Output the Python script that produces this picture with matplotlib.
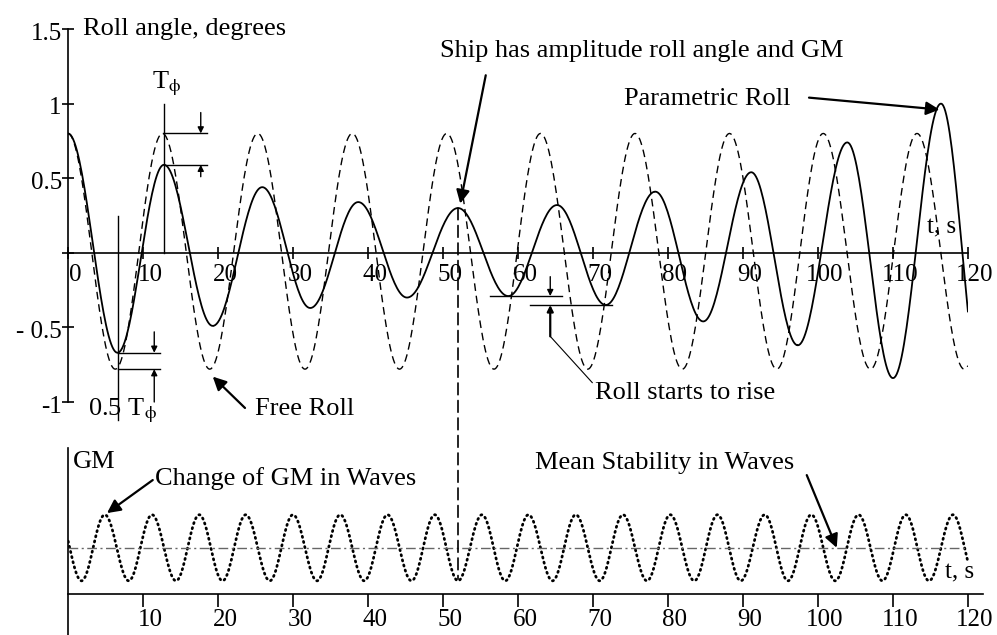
import numpy as np
import matplotlib.pyplot as plt
from matplotlib.patches import ConnectionPatch

plt.rcParams['font.family'] = ['Liberation Serif', 'DejaVu Serif']
plt.rcParams['mathtext.fontset'] = 'stix'

# free roll extrema (time s, roll deg); last point lies past the window
free_t = [0, 6.3, 12.6, 18.9, 25.3, 31.6, 37.9, 44.2, 50.5, 56.8, 63.0,
          69.3, 75.6, 81.9, 88.2, 94.5, 100.7, 107.0, 113.2, 119.5, 125.8]
free_v = [0.80, -0.78, 0.80, -0.78, 0.80, -0.78, 0.80, -0.78, 0.80, -0.78, 0.80,
          -0.78, 0.80, -0.78, 0.80, -0.78, 0.80, -0.78, 0.80, -0.78, 0.80]

# roll in waves extrema
roll_t = [0, 6.6, 12.8, 19.3, 25.9, 32.3, 38.7, 45.2, 52.0, 58.7, 65.2,
          71.7, 78.3, 84.7, 91.1, 97.3, 103.9, 110.0, 116.4, 122.0]
roll_v = [0.80, -0.67, 0.59, -0.49, 0.44, -0.37, 0.34, -0.30, 0.30, -0.29, 0.32,
          -0.35, 0.41, -0.46, 0.54, -0.62, 0.74, -0.84, 1.00, -0.95]

# GM in waves extrema (crest / trough), mean value
gm_t = [-1.35, 1.8, 4.9, 8.1, 11.2, 14.4, 17.5, 20.6, 23.7, 26.9, 30.0, 33.2,
        36.3, 39.5, 42.6, 45.8, 48.9, 52.0, 55.2, 58.3, 61.4, 64.6, 67.7, 70.9,
        74.0, 77.2, 80.3, 83.5, 86.6, 89.7, 92.9, 96.0, 99.1, 102.3, 105.4,
        108.6, 111.7, 114.8, 118.0, 121.1]
gm_v = [2.4, 0.4] * 20
gm_mean = 1.4

x_ticks = [0, 10, 20, 30, 40, 50, 60, 70, 80, 90, 100, 110, 120]
y_ticks = [1.5, 1, 0.5, -0.5, -1]
y_labels = ['1.5', '1', '0.5', '- 0.5', '-1']

T_PHI = r'T$_{\mathrm{\phi}}$'


def smooth(te, ve, t_end=120, n=40):
    # join successive extrema with half-cosine arcs
    ts, ys = [], []
    for i in range(len(te) - 1):
        s = np.linspace(0, 1, n)
        t = te[i] + (te[i + 1] - te[i]) * s
        y = ve[i] + (ve[i + 1] - ve[i]) * (1 - np.cos(np.pi * s)) / 2
        ts.append(t)
        ys.append(y)
    t = np.concatenate(ts)
    y = np.concatenate(ys)
    keep = (t >= 0) & (t <= t_end)
    return t[keep], y[keep]


fig = plt.figure(figsize=(9.97, 6.35), dpi=100)
ax1 = fig.add_axes([68 / 997, 233 / 635, 900 / 997, 373 / 635])
ax2 = fig.add_axes([68 / 997, 0, 915 / 997, 187 / 635])

FS = 18
lw_ax = 1.2

# ---- roll angle panel
ax1.set_xlim(0, 120)
ax1.set_ylim(-1, 1.5)
for s in ['top', 'right']:
    ax1.spines[s].set_visible(False)
ax1.spines['bottom'].set_position(('data', 0))
ax1.spines['left'].set_linewidth(lw_ax)
ax1.spines['bottom'].set_linewidth(lw_ax)
ax1.set_xticks(x_ticks)
ax1.set_yticks([1.5, 1, 0.5, 0, -0.5, -1])
ax1.tick_params(direction='inout', length=8, width=lw_ax, labelbottom=False, labelleft=False)
ax1.patch.set_alpha(0)

t, y = smooth(free_t, free_v)
ax1.plot(t, y, color='k', lw=1.0, linestyle=(0, (5.5, 3.5)))
t, y = smooth(roll_t, roll_v)
ax1.plot(t, y, color='k', lw=1.3)

for v in x_ticks:
    ax1.annotate(str(v), xy=(v, 0), xytext=(5, -16), textcoords='offset points',
                 ha='center', va='center', fontsize=FS)
for v, lab in zip(y_ticks, y_labels):
    ax1.annotate(lab, xy=(0, v), xytext=(-4.5, -3.5), textcoords='offset points',
                 ha='right', va='center', fontsize=FS, annotation_clip=False)

ax1.text(2.0, 1.5, 'Roll angle, degrees', fontsize=FS + 1, va='center', ha='left')
ax1.text(114.5, 0.17, 't, s', fontsize=FS, va='center', ha='left')

# period marks
kw = dict(color='k', lw=1.0, clip_on=False)
ax1.plot([12.8, 12.8], [0, 1.0], **kw)
ax1.plot([12.6, 18.5], [0.80, 0.80], **kw)
ax1.plot([12.8, 18.5], [0.59, 0.59], **kw)
small = dict(arrowstyle='-|>', color='k', lw=1.0, mutation_scale=9, shrinkA=0, shrinkB=0)
ax1.annotate('', xy=(17.7, 0.80), xytext=(17.7, 0.94), arrowprops=small)
ax1.annotate('', xy=(17.7, 0.59), xytext=(17.7, 0.51), arrowprops=small)
ax1.text(13.2, 1.13, T_PHI, fontsize=FS + 1, ha='center', va='center')

ax1.plot([6.6, 6.6], [0.25, -1.12], **kw)
ax1.plot([6.6, 12.3], [-0.67, -0.67], **kw)
ax1.plot([6.6, 12.3], [-0.78, -0.78], **kw)
ax1.annotate('', xy=(11.5, -0.67), xytext=(11.5, -0.53), arrowprops=small, annotation_clip=False)
ax1.annotate('', xy=(11.5, -0.78), xytext=(11.5, -1.0), arrowprops=small, annotation_clip=False)
ax1.text(2.7, -1.06, '0.5 ' + T_PHI, fontsize=FS + 1, ha='left', va='center')

# growth marks
ax1.plot([56.3, 65.9], [-0.29, -0.29], **kw)
ax1.plot([61.6, 72.5], [-0.35, -0.35], **kw)
ax1.annotate('', xy=(64.3, -0.29), xytext=(64.3, -0.16), arrowprops=small)
ax1.annotate('', xy=(64.3, -0.35), xytext=(64.3, -0.56), arrowprops=dict(small, lw=1.6))
ax1.plot([64.3, 69.9], [-0.56, -0.87], color='k', lw=0.8)
ax1.text(70.3, -0.94, 'Roll starts to rise', fontsize=FS + 1, ha='left', va='center')

big = dict(arrowstyle='-|>', color='k', lw=1.6, mutation_scale=20, shrinkA=0, shrinkB=0)
ax1.text(24.9, -1.05, 'Free Roll', fontsize=FS + 1, ha='left', va='center')
ax1.annotate('', xy=(19.3, -0.83), xytext=(23.6, -1.04), arrowprops=big,
             annotation_clip=False)
ax1.text(76.5, 1.35, 'Ship has amplitude roll angle and GM', fontsize=FS + 1,
         ha='center', va='center')
ax1.annotate('', xy=(52.3, 0.33), xytext=(55.7, 1.19), arrowprops=big)
ax1.text(85.3, 1.03, 'Parametric Roll', fontsize=FS + 1, ha='center', va='center')
ax1.annotate('', xy=(116.2, 0.96), xytext=(98.8, 1.04), arrowprops=big)

# ---- GM panel
ax2.set_xlim(0, 122)
ax2.set_ylim(-1.24, 4.42)
for s in ['top', 'right']:
    ax2.spines[s].set_visible(False)
ax2.spines['bottom'].set_position(('data', 0))
ax2.spines['left'].set_linewidth(lw_ax)
ax2.spines['bottom'].set_linewidth(lw_ax)
ax2.set_xticks(x_ticks[1:])
ax2.set_yticks([])
ax2.tick_params(direction='out', length=9, width=lw_ax, labelbottom=False)
ax2.patch.set_alpha(0)

t, y = smooth(gm_t, gm_v)
ax2.plot(t, y, color='k', lw=2.0, linestyle=(0, (0.4, 1.5)), dash_capstyle='round')
ax2.plot([0, 120], [gm_mean, gm_mean], color='#666666', lw=1.0,
         linestyle=(0, (7, 2.5, 1.5, 2.5)))

for v in x_ticks[1:]:
    ax2.annotate(str(v), xy=(v, 0), xytext=(5, -19), textcoords='offset points',
                 ha='center', va='center', fontsize=FS)

ax2.text(0.7, 4.0, 'GM', fontsize=FS + 1, ha='left', va='center')
ax2.text(116.9, 0.64, 't, s', fontsize=FS, ha='left', va='center')
ax2.text(11.6, 3.5, 'Change of GM in Waves', fontsize=FS + 1, ha='left', va='center')
ax2.annotate('', xy=(5.2, 2.45), xytext=(11.3, 3.45), arrowprops=big)
ax2.text(62.3, 3.97, 'Mean Stability in Waves', fontsize=FS + 1, ha='left', va='center')
ax2.annotate('', xy=(102.5, gm_mean), xytext=(98.5, 3.6), arrowprops=big)

# link between roll crest and GM trough
con = ConnectionPatch(xyA=(52.0, 0.30), coordsA=ax1.transData,
                      xyB=(52.0, 0.45), coordsB=ax2.transData,
                      color='k', lw=1.2, linestyle=(0, (7, 3.5)))
fig.add_artist(con)

fig.savefig('out.png', dpi=100)
